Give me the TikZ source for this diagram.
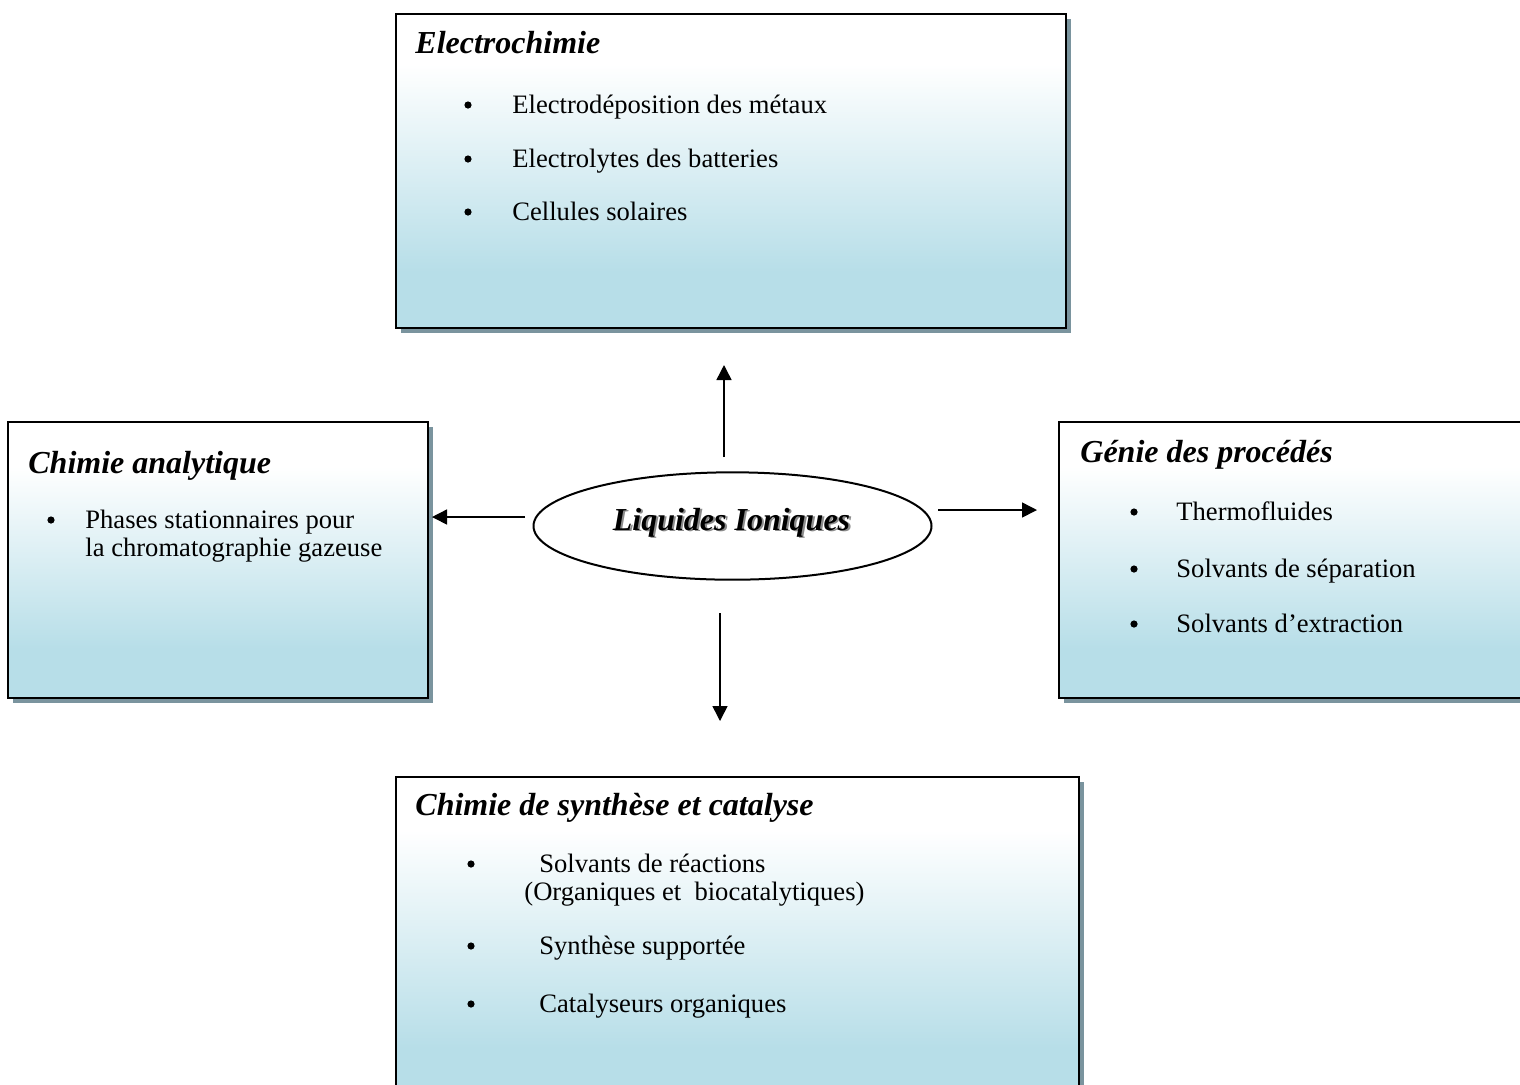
\documentclass[tikz,border=0pt]{standalone}
\usepackage{fontspec}
\setmainfont{Liberation Serif}
\usetikzlibrary{shadows,arrows.meta,shapes.geometric}
\definecolor{lb}{RGB}{183,222,232}
\definecolor{shc}{RGB}{122,148,158}
\pgfdeclareverticalshading{boxshade}{100bp}{color(0bp)=(lb); color(25bp)=(lb); color(34bp)=(lb); color(67bp)=(white); color(75bp)=(white); color(100bp)=(white)}
\begin{document}
\begin{tikzpicture}[x=0.5pt,y=-0.5pt,
  box/.style={rectangle, draw=black, line width=1.2pt, shade, shading=boxshade,
    anchor=north west, inner sep=0pt,
    general shadow={fill=shc, shadow xshift=2.2pt, shadow yshift=-2.2pt}},
  ttl/.style={anchor=base west, inner sep=0pt, font=\fontsize{16}{19}\selectfont\bfseries\itshape},
  itm/.style={anchor=base west, inner sep=0pt, font=\fontsize{13.3}{16}\selectfont},
  bul/.style={circle, fill=black, inner sep=0pt, minimum size=3.6pt},
  arr/.style={-{Triangle[length=7.5pt,width=7.5pt]}, line width=0.75pt}]
\useasboundingbox (0,0) rectangle (1520,1084);
\fill[white] (0,0) rectangle (1520,1084);
\clip (0,0) rectangle (1520,1084);

% boxes
\node[box, minimum width=335pt, minimum height=157pt] (elec) at (395,13) {};
\node[box, minimum width=210pt, minimum height=138pt] (ana) at (7,421) {};
\node[box, minimum width=250pt, minimum height=138pt] (gen) at (1058,421) {};
\node[box, minimum width=341.5pt, minimum height=165pt] (syn) at (395,776) {};

% Electrochimie
\node[ttl] (elect) at (415,53) {Electrochimie};
\node[bul] (eb1) at (468,105) {};
\node[itm] (e1) at (512,113) {Electrodéposition des métaux};
\node[bul] (eb2) at (468,159) {};
\node[itm] (e2) at (512,167) {Electrolytes des batteries};
\node[bul] (eb3) at (468,212) {};
\node[itm] (e3) at (512,220) {Cellules solaires};

% Chimie analytique
\node[ttl] (anat) at (28,473) {Chimie analytique};
\node[bul] (ab1) at (51,520) {};
\node[itm] (a1) at (85,528) {Phases stationnaires pour};
\node[itm] (a2) at (85,556) {la chromatographie gazeuse};

% Genie des procedes
\node[ttl] (gent) at (1080,462) {Génie des procédés};
\node[bul] (gb1) at (1134,512) {};
\node[itm] (g1) at (1176,520) {Thermofluides};
\node[bul] (gb2) at (1134,569) {};
\node[itm] (g2) at (1176,577) {Solvants de séparation};
\node[bul] (gb3) at (1134,624) {};
\node[itm] (g3) at (1176,632) {Solvants d’extraction};

% Synthese
\node[ttl] (synt) at (415,815) {Chimie de synthèse et catalyse};
\node[bul] (sb1) at (471,864) {};
\node[itm] (s1) at (539,872) {Solvants de réactions};
\node[itm] (s1b) at (524,900) {(Organiques et\ \ biocatalytiques)};
\node[bul] (sb2) at (471,946) {};
\node[itm] (s2) at (539,954) {Synthèse supportée};
\node[bul] (sb3) at (471,1004) {};
\node[itm] (s3) at (539,1012) {Catalyseurs organiques};

% central ellipse
\node[ellipse, draw=black, line width=1pt, fill=white, minimum width=199pt, minimum height=53.7pt, inner sep=0pt] (li) at (732.5,526) {};
\node[anchor=base, inner sep=0pt, text=black!45, font=\fontsize{16}{19}\selectfont\bfseries\itshape] (lis) at (733.6,531.4) {Liquides Ioniques};
\node[anchor=base, inner sep=0pt, font=\fontsize{16}{19}\selectfont\bfseries\itshape] (lit) at (731.5,530) {Liquides Ioniques};

% arrow end points
\coordinate (upS) at (724,457);  \coordinate (upE) at (724,365);
\coordinate (dnS) at (720,613);  \coordinate (dnE) at (720,721);
\coordinate (lfS) at (525,517);  \coordinate (lfE) at (432,517);
\coordinate (rtS) at (938,510);  \coordinate (rtE) at (1037,510);
\draw[arr] (upS) -- (upE);
\draw[arr] (dnS) -- (dnE);
\draw[arr] (lfS) -- (lfE);
\draw[arr] (rtS) -- (rtE);
\end{tikzpicture}
\end{document}
